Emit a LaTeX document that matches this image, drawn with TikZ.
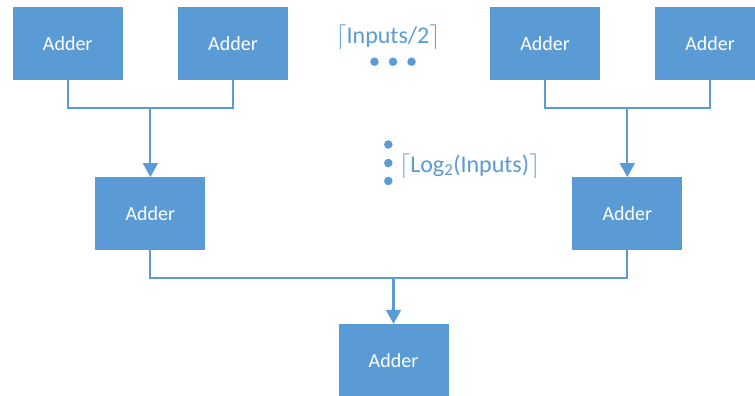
\documentclass[tikz,border=0pt]{standalone}
\usepackage{fontspec}
\setmainfont{Carlito}
\usetikzlibrary{arrows.meta}
\definecolor{adderblue}{HTML}{5B9BD5}
\tikzset{
  adder/.style={rectangle, fill=adderblue, minimum width=110pt, minimum height=73pt,
    inner sep=0pt, text=white, font=\fontsize{20}{24}\selectfont},
  wire/.style={draw=adderblue, line width=2.1pt},
  feed/.style={wire, -{Triangle[width=15pt,length=14pt]}},
  note/.style={text=adderblue, font=\fontsize{24}{28}\selectfont, inner sep=0pt},
  dot/.style={circle, fill=adderblue, minimum size=8.5pt, inner sep=0pt}
}
\begin{document}
\begin{tikzpicture}[x=1pt,y=-1pt]
  \clip (0,0) rectangle (755,396);
  \fill[white] (0,0) rectangle (755,396);

  % first stage
  \node[adder] (a1) at (67.7,43.7) {Adder};
  \node[adder] (a2) at (233,43.7) {Adder};
  \node[adder] (a3) at (545,43.7) {Adder};
  \node[adder] (a4) at (710,43.7) {Adder};

  % second stage
  \node[adder] (m1) at (150.4,213.7) {Adder};
  \node[adder] (m2) at (627.3,213.7) {Adder};

  % final stage
  \node[adder] (f) at (393.5,360.5) {Adder};

  % junction points of the merging wires
  \coordinate (j1) at (150.4,108);
  \coordinate (j2) at (627.3,108);
  \coordinate (j3) at (393.5,278);

  \draw[wire] (a1.south) |- (j1);
  \draw[wire] (a2.south) |- (j1);
  \draw[feed] (j1) -- (m1.north);

  \draw[wire] (a3.south) |- (j2);
  \draw[wire] (a4.south) |- (j2);
  \draw[feed] (j2) -- (m2.north);

  \draw[wire] (m1.south) |- (j3);
  \draw[wire] (m2.south) |- (j3);
  \draw[feed] (j3) -- (f.north);

  % width of the first stage
  \node[note] (w) at (388,37) {$\lceil$Inputs/2$\rceil$};
  \node[dot] (h1) at (374.5,61.7) {};
  \node[dot] (h2) at (393,61.7) {};
  \node[dot] (h3) at (411.5,61.7) {};

  % depth of the tree
  \node[dot] (v1) at (388.3,144.5) {};
  \node[dot] (v2) at (388.3,163) {};
  \node[dot] (v3) at (388.3,181) {};
  \node[note, anchor=west] (d) at (399,166) {$\lceil$Log\textsubscript{2}(Inputs)$\rceil$};
\end{tikzpicture}
\end{document}
